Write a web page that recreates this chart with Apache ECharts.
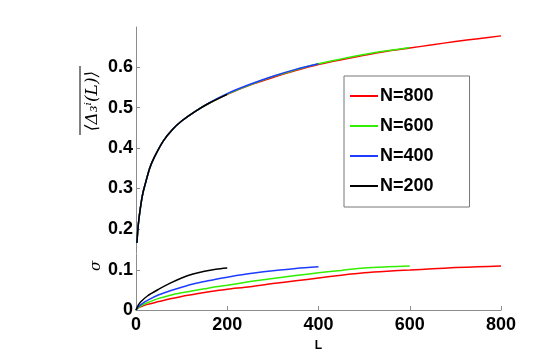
<!DOCTYPE html>
<html>
<head>
<meta charset="utf-8">
<script src="https://cdn.jsdelivr.net/npm/echarts@6/dist/echarts.min.js"></script>
<style>
  html, body { margin: 0; padding: 0; background: #fff; }
  #chart { width: 554px; height: 357px; }
</style>
</head>
<body>
<div id="chart"></div>
<script>
// top panel: <Delta_3(L)> against L
const lTop = [2, 5, 10, 15, 20, 30, 40, 60, 80, 100, 130, 160, 200, 250, 300, 350, 400, 450, 500, 550, 600, 650, 700, 750, 800];
const delta800 = [0.165, 0.21, 0.255, 0.288, 0.31, 0.35, 0.377, 0.418, 0.446, 0.467, 0.491, 0.511, 0.533, 0.556, 0.575, 0.592, 0.607, 0.619, 0.630, 0.640, 0.648, 0.656, 0.664, 0.671, 0.678];
const delta600 = [0.165, 0.21, 0.255, 0.288, 0.31, 0.35, 0.377, 0.418, 0.446, 0.467, 0.491, 0.511, 0.534, 0.557, 0.577, 0.594, 0.609, 0.621, 0.632, 0.641, 0.649];
const delta400 = [0.165, 0.21, 0.255, 0.288, 0.31, 0.35, 0.377, 0.418, 0.446, 0.467, 0.491, 0.512, 0.535, 0.558, 0.578, 0.595, 0.609];
const delta200 = [0.165, 0.21, 0.255, 0.288, 0.31, 0.35, 0.377, 0.418, 0.446, 0.467, 0.491, 0.511, 0.533];

// bottom panel: sigma against L
const lBottom = [0, 5, 10, 25, 50, 75, 100, 125, 150, 175, 200, 250, 300, 350, 400, 450, 500, 550, 600, 650, 700, 750, 800];
const sigma800 = [0, 0.005, 0.008, 0.014, 0.021, 0.028, 0.034, 0.039, 0.044, 0.048, 0.052, 0.058, 0.066, 0.073, 0.080, 0.087, 0.093, 0.097, 0.100, 0.103, 0.106, 0.108, 0.110];
const sigma600 = [0, 0.006, 0.010, 0.018, 0.029, 0.037, 0.043, 0.048, 0.053, 0.058, 0.062, 0.071, 0.079, 0.086, 0.093, 0.099, 0.105, 0.108, 0.110];
const sigma400 = [0, 0.008, 0.013, 0.024, 0.038, 0.048, 0.057, 0.065, 0.071, 0.077, 0.082, 0.091, 0.098, 0.104, 0.108];
const sigma200 = [0, 0.012, 0.020, 0.035, 0.052, 0.067, 0.080, 0.090, 0.097, 0.102, 0.105];

const names = ["N=800", "N=600", "N=400", "N=200"];
const colors = ["#ff0000", "#33ee00", "#1e3cff", "#000000"];
const xTicks = [0, 200, 400, 600, 800];
const topTicks = [0.2, 0.3, 0.4, 0.5, 0.6];
const bottomTicks = [0, 0.1];

function pairs(xs, ys) {
  return ys.map((y, i) => [xs[i], y]);
}

const chart = echarts.init(document.getElementById("chart"));
const font = "Liberation Sans";
const axisGrey = "#8c8c8c";

const topSets = [delta800, delta600, delta400, delta200];
const bottomSets = [sigma800, sigma600, sigma400, sigma200];

let series = [];
topSets.forEach((ys, i) => {
  series.push({
    name: names[i], type: "line", xAxisIndex: 0, yAxisIndex: 0,
    data: pairs(lTop, ys), showSymbol: false, smooth: 0.3,
    lineStyle: { color: colors[i], width: 1.5 }, itemStyle: { color: colors[i] },
    animation: false
  });
});
bottomSets.forEach((ys, i) => {
  series.push({
    name: names[i], type: "line", xAxisIndex: 1, yAxisIndex: 1,
    data: pairs(lBottom, ys), showSymbol: false, smooth: 0.3,
    lineStyle: { color: colors[i], width: 1.5 }, itemStyle: { color: colors[i] },
    animation: false
  });
});

const tickLabel = { color: "#000", fontFamily: font, fontWeight: "bold", fontSize: 18 };

chart.setOption({
  backgroundColor: "#fff",
  grid: [
    { left: 136, right: 53, top: 27, height: 226 },
    { left: 136, right: 53, top: 254, height: 56 }
  ],
  xAxis: [
    { type: "value", gridIndex: 0, min: 0, max: 800, show: false },
    {
      type: "value", gridIndex: 1, min: 0, max: 800, interval: 200,
      name: "L", nameLocation: "middle", nameGap: 30,
      nameTextStyle: { color: "#000", fontFamily: font, fontWeight: "bold", fontSize: 12 },
      axisLine: { lineStyle: { color: axisGrey, width: 1 } },
      axisTick: { inside: true, length: 4, lineStyle: { color: axisGrey } },
      axisLabel: Object.assign({ margin: 6 }, tickLabel),
      splitLine: { show: false }
    }
  ],
  yAxis: [
    {
      type: "value", gridIndex: 0, min: 0.14, max: 0.7,
      axisLine: { show: true, lineStyle: { color: axisGrey, width: 1 } },
      axisTick: { show: true, inside: true, length: 4, customValues: topTicks, lineStyle: { color: axisGrey } },
      axisLabel: Object.assign({ margin: 3, customValues: topTicks, formatter: v => v.toFixed(1) }, tickLabel),
      splitLine: { show: false }
    },
    {
      type: "value", gridIndex: 1, min: 0, max: 0.14,
      axisLine: { show: true, lineStyle: { color: axisGrey, width: 1 } },
      axisTick: { show: true, inside: true, length: 4, customValues: bottomTicks, lineStyle: { color: axisGrey } },
      axisLabel: Object.assign({ margin: 3, customValues: bottomTicks, formatter: v => (v === 0 ? "0" : v.toFixed(1)) }, tickLabel),
      splitLine: { show: false }
    }
  ],
  legend: {
    data: names,
    orient: "vertical",
    left: 344, top: 76,
    padding: [11, 36, 12, 6],
    itemGap: 12,
    itemWidth: 28, itemHeight: 2,
    icon: "rect",
    backgroundColor: "#fff",
    borderColor: "#777", borderWidth: 1, borderRadius: 0,
    textStyle: { color: "#000", fontFamily: font, fontWeight: "bold", fontSize: 18, padding: [0, 0, 0, -3] }
  },
  graphic: [
    {
      type: "text", x: 93, y: 101, rotation: Math.PI / 2,
      style: {
        text: "⟨Δ₃ⁱ(L)⟩", fill: "#000",
        font: "italic 17px 'DejaVu Serif'", align: "center", verticalAlign: "middle"
      }
    },
    { type: "line", shape: { x1: 80, y1: 66, x2: 80, y2: 135 }, style: { stroke: "#000", lineWidth: 1 } },
    {
      type: "text", x: 96, y: 266, rotation: Math.PI / 2,
      style: {
        text: "σ", fill: "#000",
        font: "italic 15px 'DejaVu Serif'", align: "center", verticalAlign: "middle"
      }
    }
  ],
  series: series
});
</script>
</body>
</html>
